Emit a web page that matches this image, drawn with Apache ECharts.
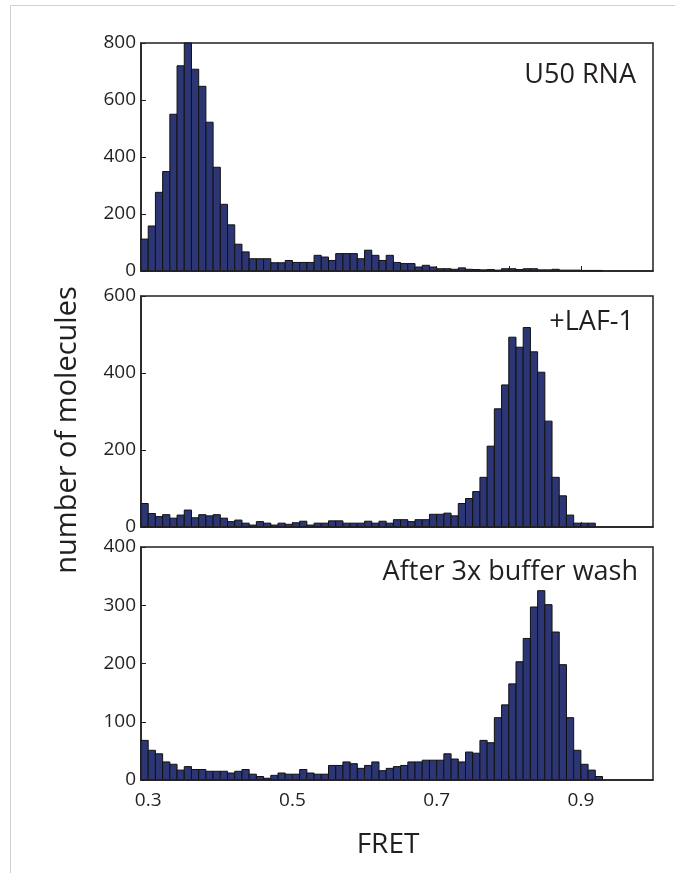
<!DOCTYPE html>
<html>
<head>
<meta charset="utf-8">
<title>FRET histograms</title>
<script src="https://cdn.jsdelivr.net/npm/echarts@6/dist/echarts.min.js"></script>
<style>
  html, body { margin: 0; padding: 0; background: #fff; }
  #chart { width: 675px; height: 873px; }
</style>
</head>
<body>
<div id="chart"></div>
<script>
// histogram bins, width 0.01, first bin 0.29-0.30
var binWidth = 0.01;
var binStart = 0.29;

// number of molecules per bin
var u50Rna = [112, 158, 276, 349, 550, 720, 800, 708, 648, 522, 364, 234, 162, 94, 67, 43, 43, 43, 29, 29, 37, 30, 30,
    30, 55, 49, 37, 61, 61, 61, 43, 73, 55, 37, 55, 30, 26, 26, 14, 20, 14, 8, 8, 6, 11, 6,
    5, 4, 5, 3, 8, 8, 5, 8, 8, 4, 4, 6, 3, 3, 3, 2, 2, 2];
var lafOne = [61, 35, 27, 32, 23, 31, 44, 24, 32, 29, 32, 23, 14, 18, 10, 5, 14, 10, 5, 10, 7, 11,
    15, 5, 10, 10, 16, 16, 10, 10, 10, 15, 10, 15, 10, 19, 19, 14, 19, 19, 33, 33, 36, 29, 61, 74,
    92, 129, 210, 307, 369, 493, 467, 518, 455, 402, 275, 129, 81, 31, 10, 10, 10];
var bufferWash = [68, 51, 45, 31, 27, 17, 23, 18, 18, 15, 15, 15, 12, 15, 18, 10, 6, 3, 8, 12, 10, 10, 18,
    12, 10, 10, 25, 25, 31, 28, 20, 25, 31, 16, 20, 23, 25, 31, 31, 34, 34, 34, 45, 36, 31, 48, 46,
    68, 64, 107, 129, 165, 203, 243, 297, 325, 301, 254, 198, 107, 51, 27, 17, 6];

var panelNames = ['U50 RNA', '+LAF-1', 'After 3x buffer wash'];
var yMax = [800, 600, 400];
var yStep = [200, 200, 100];
var xTicks = [0.3, 0.4, 0.5, 0.6, 0.7, 0.8, 0.9];
var xLabels = [0.3, 0.5, 0.7, 0.9];

var ink = '#231f20';
var barFill = '#2d3674';
var font = 'Open Sans';

function toPairs(arr) {
    return arr.map(function (v, i) {
        return [+(binStart + binWidth * i).toFixed(3), v];
    });
}

function renderBin(params, api) {
    var x = api.value(0);
    var p0 = api.coord([x, api.value(1)]);
    var p1 = api.coord([x + binWidth, 0]);
    var cs = params.coordSys;
    var rect = echarts.graphic.clipRectByRect({
        x: p0[0], y: p0[1], width: p1[0] - p0[0], height: p1[1] - p0[1]
    }, {
        x: cs.x, y: cs.y, width: cs.width, height: cs.height
    });
    return rect && {
        type: 'rect',
        shape: rect,
        style: { fill: barFill, stroke: '#111', lineWidth: 1 }
    };
}

var grids = [
    { left: 141, right: 22, top: 43, height: 228 },
    { left: 141, right: 22, top: 296, height: 231 },
    { left: 141, right: 22, top: 547, height: 233 }
];
var titleY = [75, 322, 572];
var titleRight = [636, 634, 638];
var allData = [u50Rna, lafOne, bufferWash];

var option = {
    backgroundColor: '#fff',
    animation: false,
    grid: grids.map(function (g) {
        return Object.assign({ show: true, borderColor: ink, borderWidth: 1.5, backgroundColor: 'transparent' }, g);
    }),
    xAxis: grids.map(function (g, i) {
        return {
            type: 'value',
            gridIndex: i,
            min: 0.29,
            max: 1.0,
            z: 5,
            splitLine: { show: false },
            axisLine: { show: true, lineStyle: { color: ink, width: 1.5 } },
            axisTick: { show: true, inside: true, length: 5, customValues: xTicks, lineStyle: { color: ink } },
            axisLabel: {
                show: i === 2,
                customValues: xLabels,
                margin: 11,
                color: ink,
                fontSize: 19,
                fontFamily: font,
                formatter: function (v) { return v.toFixed(1); }
            }
        };
    }),
    yAxis: grids.map(function (g, i) {
        return {
            type: 'value',
            gridIndex: i,
            min: 0,
            max: yMax[i],
            interval: yStep[i],
            splitLine: { show: false },
            axisLine: { show: true, lineStyle: { color: ink, width: 1.5 } },
            axisTick: { show: true, inside: true, length: 5, lineStyle: { color: ink } },
            axisLabel: { color: ink, fontSize: 19, fontFamily: font, margin: 5 }
        };
    }),
    series: allData.map(function (d, i) {
        return {
            type: 'custom',
            xAxisIndex: i,
            yAxisIndex: i,
            renderItem: renderBin,
            encode: { x: 0, y: 1 },
            data: toPairs(d)
        };
    }),
    graphic: [
        {
            type: 'rect',
            shape: { x: 10.5, y: 5.5, width: 700, height: 900 },
            style: { fill: 'none', stroke: '#cfcfcf', lineWidth: 1 },
            silent: true
        },
        {
            type: 'text',
            x: 68, y: 430,
            rotation: Math.PI / 2,
            style: {
                text: 'number of molecules', fill: ink, font: '29px "Open Sans"',
                textAlign: 'center', textVerticalAlign: 'middle'
            }
        },
        {
            type: 'text',
            x: 388, y: 845,
            style: {
                text: 'FRET', fill: ink, font: '28px "Open Sans"',
                textAlign: 'center', textVerticalAlign: 'middle'
            }
        }
    ].concat(panelNames.map(function (name, i) {
        return {
            type: 'text',
            x: titleRight[i], y: titleY[i],
            z: 10,
            style: {
                text: name, fill: ink, font: '27px "Open Sans"',
                textAlign: 'right', textVerticalAlign: 'middle'
            }
        };
    }))
};

var myChart = echarts.init(document.getElementById('chart'));
myChart.setOption(option);
</script>
</body>
</html>
